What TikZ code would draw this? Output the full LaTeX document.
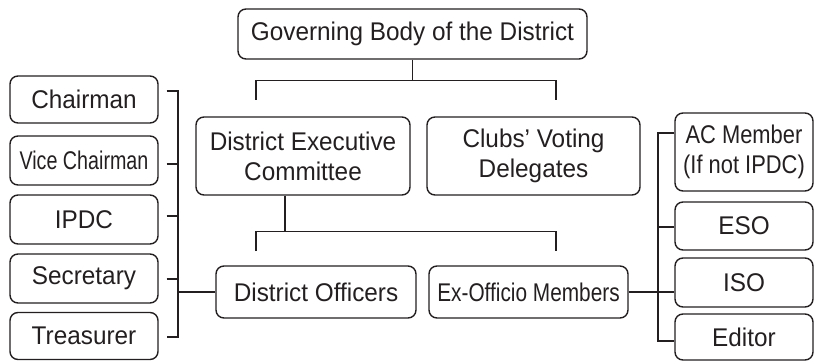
\documentclass[tikz,border=0pt]{standalone}
\usepackage{fontspec}
\setmainfont[FakeStretch=0.95]{Liberation Sans}
\usetikzlibrary{calc}
\definecolor{ink}{HTML}{231F20}
\tikzset{
  orgbox/.style={draw=ink, text=ink, rounded corners=8pt, line width=1.4pt,
    font=\fontsize{25.6}{30}\selectfont, align=center, inner sep=0pt},
  link/.style={draw=ink, line width=1.5pt}
}
\begin{document}
\begin{tikzpicture}[x=1pt,y=-1pt]
\useasboundingbox (0,0) rectangle (815,361);
% top
\node[orgbox, minimum width=349pt, minimum height=50pt] (gov) at (412.5,34) {Governing Body of the District};
\node[orgbox, minimum width=214pt, minimum height=78pt] (dec) at (303,156) {District Executive\\Committee};
\node[orgbox, minimum width=213pt, minimum height=78pt] (cvd) at (533.5,156) {Clubs' Voting\\Delegates};
\node[orgbox, minimum width=200pt, minimum height=52pt] (do) at (316,292) {District Officers};
\node[orgbox, minimum width=199pt, minimum height=52pt] (eo) at (528.5,292) {\scalebox{0.856}[1]{Ex-Officio Members}};
% left column
\node[orgbox, minimum width=148pt, minimum height=47pt] (chair) at (84,99.5) {Chairman};
\node[orgbox, minimum width=148pt, minimum height=49pt] (vice) at (84,160.5) {\scalebox{0.81}[1]{Vice Chairman}};
\node[orgbox, minimum width=148pt, minimum height=49pt] (ipdc) at (84,219.5) {IPDC};
\node[orgbox, minimum width=148pt, minimum height=49pt] (sec) at (84,278.5) {Secretary};
\node[orgbox, minimum width=148pt, minimum height=47pt] (treas) at (84,336) {Treasurer};
% right column
\node[orgbox, minimum width=138pt, minimum height=78pt] (ac) at (744,152) {\scalebox{0.9}[1]{\begin{tabular}{@{}c@{}}AC Member\\(If not IPDC)\end{tabular}}};
\node[orgbox, minimum width=138pt, minimum height=48pt] (eso) at (744,226) {ESO};
\node[orgbox, minimum width=138pt, minimum height=49pt] (iso) at (744,282.5) {ISO};
\node[orgbox, minimum width=138pt, minimum height=46pt] (editor) at (744,337) {Editor};
% connectors: governing body
\coordinate (gbar) at ($(gov.south)+(0,21)$);
\coordinate (g1) at (256,100);
\coordinate (g2) at (556,100);
\draw[link] (gov.south) -- (gbar);
\draw[link] (g1) |- (gbar) -| (g2);
% connectors: executive committee
\coordinate (d0) at ($(dec.south)+(-18,0)$);
\coordinate (dbar) at ($(d0)+(0,36)$);
\coordinate (d1) at (256,251);
\coordinate (d2) at (556,251);
\draw[link] (d0) -- (dbar);
\draw[link] (d1) |- (dbar) -| (d2);
% left bracket
\coordinate (lb) at (178,292);
\draw[link] (do.west) -- (lb);
\draw[link] ($(chair.east)+(8,-8.5)$) -| (178,337) -- ($(treas.east)+(8,1)$);
\draw[link] ($(vice.east)+(8,3.5)$) -- ($(vice.east)+(20,3.5)$);
\draw[link] ($(ipdc.east)+(8,-3.5)$) -- ($(ipdc.east)+(20,-3.5)$);
\draw[link] ($(sec.east)+(8,0.5)$) -- ($(sec.east)+(20,0.5)$);
% right bracket
\coordinate (rb) at (658,292);
\draw[link] (eo.east) -- (rb);
\draw[link] ($(ac.west)+(0,-19)$) -| (658,341) -- ($(editor.west)+(0,4)$);
\draw[link] ($(eso.west)+(0,1)$) -- ($(eso.west)+(-17,1)$);
\draw[link] (rb) -- ($(iso.west)+(0,9.5)$);
\end{tikzpicture}
\end{document}
